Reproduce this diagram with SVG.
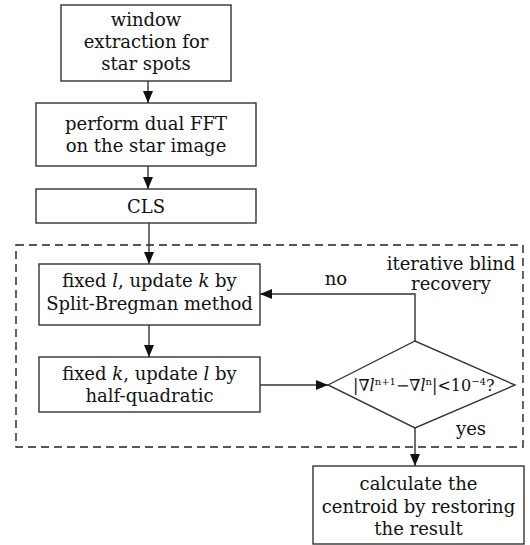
<svg xmlns="http://www.w3.org/2000/svg" width="530" height="545" viewBox="0 0 530 545">
<style>
.box{fill:#fff;stroke:#333;stroke-width:1.4}
.t{font-family:"DejaVu Serif","Liberation Serif",serif;font-size:18px;fill:#111;text-anchor:middle}
.f{font-family:"DejaVu Serif","Liberation Serif",serif;font-size:16px;fill:#111}
.sup{font-size:10px}
.i{font-style:italic}
.c{fill:none;stroke:#333;stroke-width:1.4}
.dash{fill:none;stroke:#222;stroke-width:1.4;stroke-dasharray:8 5}
</style>
<defs>
<marker id="ah" markerUnits="userSpaceOnUse" markerWidth="12" markerHeight="10" refX="12" refY="5" orient="auto">
<path d="M0,0 L12,5 L0,10 Z" fill="#111"/>
</marker>
</defs>
<rect class="dash" x="16" y="245" width="507" height="202"/>
<g id="n1"><rect class="box" x="61" y="5" width="170" height="76"/>
<text class="t" x="146" y="26">window</text><text class="t" x="146" y="48">extraction for</text><text class="t" x="146" y="70">star spots</text></g>
<g id="n2"><rect class="box" x="36" y="103" width="220" height="63"/>
<text class="t" x="146" y="130">perform dual FFT</text><text class="t" x="146" y="152">on the star image</text></g>
<g id="n3"><rect class="box" x="36" y="189" width="220" height="34"/>
<text class="t" x="146" y="213">CLS</text></g>
<g id="n4"><rect class="box" x="39" y="264" width="221" height="61"/>
<text class="t" x="149.5" y="287">fixed <tspan class="i">l</tspan>, update <tspan class="i">k</tspan> by</text><text class="t" x="149.5" y="310">Split-Bregman method</text></g>
<g id="n5"><rect class="box" x="39" y="357" width="221" height="55"/>
<text class="t" x="149.5" y="380">fixed <tspan class="i">k</tspan>, update <tspan class="i">l</tspan> by</text><text class="t" x="149.5" y="402">half-quadratic</text></g>
<g id="n6"><polygon class="box" points="328,385 415,341 515,385 415,428"/>
<text class="f" x="353" y="391">|∇<tspan class="i">l</tspan><tspan class="sup" dy="-6">n+1</tspan><tspan dy="6">−∇</tspan><tspan class="i">l</tspan><tspan class="sup" dy="-6">n</tspan><tspan dy="6">|&lt;10</tspan><tspan class="sup" dy="-6">−4</tspan><tspan dy="6">?</tspan></text></g>
<g id="n7"><rect class="box" x="313" y="466" width="211" height="78"/>
<text class="t" x="418.5" y="490">calculate the</text><text class="t" x="418.5" y="513">centroid by restoring</text><text class="t" x="418.5" y="535">the result</text></g>
<g id="labels">
<text class="t" x="336" y="285">no</text>
<text class="t" x="451" y="270">iterative blind</text>
<text class="t" x="451" y="290">recovery</text>
<text class="t" x="471" y="435">yes</text>
</g>
<g id="connectors">
<path class="c" d="M148,81 V103" marker-end="url(#ah)"/>
<path class="c" d="M148,166 V189" marker-end="url(#ah)"/>
<path class="c" d="M149,223 V264" marker-end="url(#ah)"/>
<path class="c" d="M149,325 V357" marker-end="url(#ah)"/>
<path class="c" d="M260,385 H328" marker-end="url(#ah)"/>
<path class="c" d="M415,341 V294 H260" marker-end="url(#ah)"/>
<path class="c" d="M415,428 V466" marker-end="url(#ah)"/>
</g>
</svg>
